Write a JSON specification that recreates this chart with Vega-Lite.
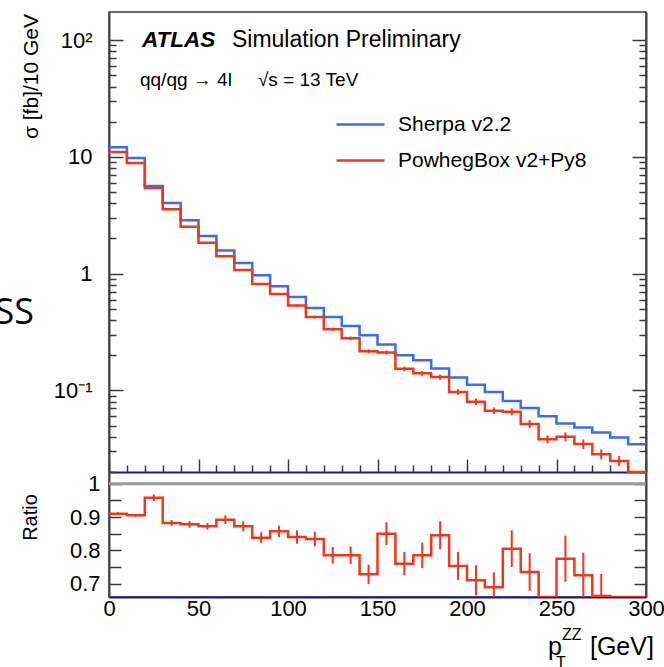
{
  "$schema": "https://vega.github.io/schema/vega-lite/v6.json",
  "autosize": {"type": "none"},
  "padding": {"left": 109, "top": 12, "right": 18, "bottom": 70},
  "background": "white",
  "width": 537,
  "height": 585,
  "config": {
    "font": "Liberation Sans",
    "view": {"stroke": "#3a3a3a", "strokeWidth": 1.5},
    "axis": {"grid": false, "labelFont": "Liberation Sans", "labelColor": "#000", "titleFont": "Liberation Sans", "titleColor": "#000", "titleFontWeight": "normal", "tickColor": "#3a3a3a", "domainColor": "#3a3a3a", "tickWidth": 1.5, "domainWidth": 1.5, "labelOverlap": false},
    "legend": {"orient": "none", "legendX": 226, "legendY": 87, "title": null, "symbolType": "stroke", "symbolSize": 2304, "symbolStrokeWidth": 2.5, "labelFontSize": 21, "labelFont": "Liberation Sans", "labelColor": "#000", "labelOffset": 12, "labelLimit": 0, "rowPadding": -9, "padding": 0}
  },
  "datasets": {
    "top": [
      {"series": "Sherpa v2.2", "lo": 0, "hi": 10, "pt": 5, "sigma": 12.1},
      {"series": "Sherpa v2.2", "lo": 10, "hi": 20, "pt": 15, "sigma": 9.8},
      {"series": "Sherpa v2.2", "lo": 20, "hi": 30, "pt": 25, "sigma": 5.62},
      {"series": "Sherpa v2.2", "lo": 30, "hi": 40, "pt": 35, "sigma": 4.02},
      {"series": "Sherpa v2.2", "lo": 40, "hi": 50, "pt": 45, "sigma": 2.86},
      {"series": "Sherpa v2.2", "lo": 50, "hi": 60, "pt": 55, "sigma": 2.10},
      {"series": "Sherpa v2.2", "lo": 60, "hi": 70, "pt": 65, "sigma": 1.58},
      {"series": "Sherpa v2.2", "lo": 70, "hi": 80, "pt": 75, "sigma": 1.23},
      {"series": "Sherpa v2.2", "lo": 80, "hi": 90, "pt": 85, "sigma": 0.967},
      {"series": "Sherpa v2.2", "lo": 90, "hi": 100, "pt": 95, "sigma": 0.778},
      {"series": "Sherpa v2.2", "lo": 100, "hi": 110, "pt": 105, "sigma": 0.631},
      {"series": "Sherpa v2.2", "lo": 110, "hi": 120, "pt": 115, "sigma": 0.508},
      {"series": "Sherpa v2.2", "lo": 120, "hi": 130, "pt": 125, "sigma": 0.425},
      {"series": "Sherpa v2.2", "lo": 130, "hi": 140, "pt": 135, "sigma": 0.356},
      {"series": "Sherpa v2.2", "lo": 140, "hi": 150, "pt": 145, "sigma": 0.296},
      {"series": "Sherpa v2.2", "lo": 150, "hi": 160, "pt": 155, "sigma": 0.247},
      {"series": "Sherpa v2.2", "lo": 160, "hi": 170, "pt": 165, "sigma": 0.200},
      {"series": "Sherpa v2.2", "lo": 170, "hi": 180, "pt": 175, "sigma": 0.181},
      {"series": "Sherpa v2.2", "lo": 180, "hi": 190, "pt": 185, "sigma": 0.154},
      {"series": "Sherpa v2.2", "lo": 190, "hi": 200, "pt": 195, "sigma": 0.129},
      {"series": "Sherpa v2.2", "lo": 200, "hi": 210, "pt": 205, "sigma": 0.112},
      {"series": "Sherpa v2.2", "lo": 210, "hi": 220, "pt": 215, "sigma": 0.0969},
      {"series": "Sherpa v2.2", "lo": 220, "hi": 230, "pt": 225, "sigma": 0.0811},
      {"series": "Sherpa v2.2", "lo": 230, "hi": 240, "pt": 235, "sigma": 0.0706},
      {"series": "Sherpa v2.2", "lo": 240, "hi": 250, "pt": 245, "sigma": 0.060},
      {"series": "Sherpa v2.2", "lo": 250, "hi": 260, "pt": 255, "sigma": 0.052},
      {"series": "Sherpa v2.2", "lo": 260, "hi": 270, "pt": 265, "sigma": 0.0481},
      {"series": "Sherpa v2.2", "lo": 270, "hi": 280, "pt": 275, "sigma": 0.0435},
      {"series": "Sherpa v2.2", "lo": 280, "hi": 290, "pt": 285, "sigma": 0.0394},
      {"series": "Sherpa v2.2", "lo": 290, "hi": 300, "pt": 295, "sigma": 0.0346},
      {"series": "PowhegBox v2+Py8", "lo": 0, "hi": 10, "pt": 5, "sigma": 11.0},
      {"series": "PowhegBox v2+Py8", "lo": 10, "hi": 20, "pt": 15, "sigma": 8.85},
      {"series": "PowhegBox v2+Py8", "lo": 20, "hi": 30, "pt": 25, "sigma": 5.40},
      {"series": "PowhegBox v2+Py8", "lo": 30, "hi": 40, "pt": 35, "sigma": 3.56},
      {"series": "PowhegBox v2+Py8", "lo": 40, "hi": 50, "pt": 45, "sigma": 2.52},
      {"series": "PowhegBox v2+Py8", "lo": 50, "hi": 60, "pt": 55, "sigma": 1.84},
      {"series": "PowhegBox v2+Py8", "lo": 60, "hi": 70, "pt": 65, "sigma": 1.41},
      {"series": "PowhegBox v2+Py8", "lo": 70, "hi": 80, "pt": 75, "sigma": 1.075},
      {"series": "PowhegBox v2+Py8", "lo": 80, "hi": 90, "pt": 85, "sigma": 0.815},
      {"series": "PowhegBox v2+Py8", "lo": 90, "hi": 100, "pt": 95, "sigma": 0.668},
      {"series": "PowhegBox v2+Py8", "lo": 100, "hi": 110, "pt": 105, "sigma": 0.532},
      {"series": "PowhegBox v2+Py8", "lo": 110, "hi": 120, "pt": 115, "sigma": 0.425},
      {"series": "PowhegBox v2+Py8", "lo": 120, "hi": 130, "pt": 125, "sigma": 0.334},
      {"series": "PowhegBox v2+Py8", "lo": 130, "hi": 140, "pt": 135, "sigma": 0.280},
      {"series": "PowhegBox v2+Py8", "lo": 140, "hi": 150, "pt": 145, "sigma": 0.216},
      {"series": "PowhegBox v2+Py8", "lo": 150, "hi": 160, "pt": 155, "sigma": 0.211},
      {"series": "PowhegBox v2+Py8", "lo": 160, "hi": 170, "pt": 165, "sigma": 0.153},
      {"series": "PowhegBox v2+Py8", "lo": 170, "hi": 180, "pt": 175, "sigma": 0.140},
      {"series": "PowhegBox v2+Py8", "lo": 180, "hi": 190, "pt": 185, "sigma": 0.130},
      {"series": "PowhegBox v2+Py8", "lo": 190, "hi": 200, "pt": 195, "sigma": 0.097},
      {"series": "PowhegBox v2+Py8", "lo": 200, "hi": 210, "pt": 205, "sigma": 0.080},
      {"series": "PowhegBox v2+Py8", "lo": 210, "hi": 220, "pt": 215, "sigma": 0.0670},
      {"series": "PowhegBox v2+Py8", "lo": 220, "hi": 230, "pt": 225, "sigma": 0.0656},
      {"series": "PowhegBox v2+Py8", "lo": 230, "hi": 240, "pt": 235, "sigma": 0.0516},
      {"series": "PowhegBox v2+Py8", "lo": 240, "hi": 250, "pt": 245, "sigma": 0.0381},
      {"series": "PowhegBox v2+Py8", "lo": 250, "hi": 260, "pt": 255, "sigma": 0.0401},
      {"series": "PowhegBox v2+Py8", "lo": 260, "hi": 270, "pt": 265, "sigma": 0.0347},
      {"series": "PowhegBox v2+Py8", "lo": 270, "hi": 280, "pt": 275, "sigma": 0.0284},
      {"series": "PowhegBox v2+Py8", "lo": 280, "hi": 290, "pt": 285, "sigma": 0.0249},
      {"series": "PowhegBox v2+Py8", "lo": 290, "hi": 300, "pt": 295, "sigma": 0.018}
    ],
    "toperr": [
      {"pt": 5, "elo": 10.956, "ehi": 11.044},
      {"pt": 15, "elo": 8.81, "ehi": 8.89},
      {"pt": 25, "elo": 5.344, "ehi": 5.456},
      {"pt": 35, "elo": 3.524, "ehi": 3.596},
      {"pt": 45, "elo": 2.492, "ehi": 2.548},
      {"pt": 55, "elo": 1.82, "ehi": 1.86},
      {"pt": 65, "elo": 1.389, "ehi": 1.431},
      {"pt": 75, "elo": 1.057, "ehi": 1.093},
      {"pt": 85, "elo": 0.7995, "ehi": 0.8305},
      {"pt": 95, "elo": 0.6547, "ehi": 0.6813},
      {"pt": 105, "elo": 0.5192, "ehi": 0.5448},
      {"pt": 115, "elo": 0.414, "ehi": 0.436},
      {"pt": 125, "elo": 0.3233, "ehi": 0.3447},
      {"pt": 135, "elo": 0.2708, "ehi": 0.2892},
      {"pt": 145, "elo": 0.2074, "ehi": 0.2246},
      {"pt": 155, "elo": 0.2026, "ehi": 0.2194},
      {"pt": 165, "elo": 0.146, "ehi": 0.16},
      {"pt": 175, "elo": 0.1333, "ehi": 0.1467},
      {"pt": 185, "elo": 0.1235, "ehi": 0.1365},
      {"pt": 195, "elo": 0.0916, "ehi": 0.1024},
      {"pt": 205, "elo": 0.075, "ehi": 0.085},
      {"pt": 215, "elo": 0.0626, "ehi": 0.0714},
      {"pt": 225, "elo": 0.0611, "ehi": 0.0701},
      {"pt": 235, "elo": 0.0477, "ehi": 0.0555},
      {"pt": 245, "elo": 0.0351, "ehi": 0.0411},
      {"pt": 255, "elo": 0.0365, "ehi": 0.0437},
      {"pt": 265, "elo": 0.0314, "ehi": 0.038},
      {"pt": 275, "elo": 0.0256, "ehi": 0.0312},
      {"pt": 285, "elo": 0.0224, "ehi": 0.0274},
      {"pt": 295, "elo": 0.0162, "ehi": 0.0198}
    ],
    "ratio": [
      {"lo": 0, "hi": 10, "pt": 5, "ratio": 0.910, "rlo": 0.906, "rhi": 0.914},
      {"lo": 10, "hi": 20, "pt": 15, "ratio": 0.905, "rlo": 0.901, "rhi": 0.909},
      {"lo": 20, "hi": 30, "pt": 25, "ratio": 0.958, "rlo": 0.948, "rhi": 0.968},
      {"lo": 30, "hi": 40, "pt": 35, "ratio": 0.882, "rlo": 0.873, "rhi": 0.891},
      {"lo": 40, "hi": 50, "pt": 45, "ratio": 0.878, "rlo": 0.868, "rhi": 0.888},
      {"lo": 50, "hi": 60, "pt": 55, "ratio": 0.872, "rlo": 0.862, "rhi": 0.882},
      {"lo": 60, "hi": 70, "pt": 65, "ratio": 0.892, "rlo": 0.879, "rhi": 0.905},
      {"lo": 70, "hi": 80, "pt": 75, "ratio": 0.872, "rlo": 0.857, "rhi": 0.887},
      {"lo": 80, "hi": 90, "pt": 85, "ratio": 0.838, "rlo": 0.822, "rhi": 0.854},
      {"lo": 90, "hi": 100, "pt": 95, "ratio": 0.857, "rlo": 0.840, "rhi": 0.874},
      {"lo": 100, "hi": 110, "pt": 105, "ratio": 0.840, "rlo": 0.820, "rhi": 0.860},
      {"lo": 110, "hi": 120, "pt": 115, "ratio": 0.834, "rlo": 0.812, "rhi": 0.856},
      {"lo": 120, "hi": 130, "pt": 125, "ratio": 0.785, "rlo": 0.760, "rhi": 0.810},
      {"lo": 130, "hi": 140, "pt": 135, "ratio": 0.785, "rlo": 0.759, "rhi": 0.811},
      {"lo": 140, "hi": 150, "pt": 145, "ratio": 0.728, "rlo": 0.699, "rhi": 0.757},
      {"lo": 150, "hi": 160, "pt": 155, "ratio": 0.850, "rlo": 0.816, "rhi": 0.884},
      {"lo": 160, "hi": 170, "pt": 165, "ratio": 0.760, "rlo": 0.725, "rhi": 0.795},
      {"lo": 170, "hi": 180, "pt": 175, "ratio": 0.785, "rlo": 0.747, "rhi": 0.823},
      {"lo": 180, "hi": 190, "pt": 185, "ratio": 0.845, "rlo": 0.803, "rhi": 0.887},
      {"lo": 190, "hi": 200, "pt": 195, "ratio": 0.753, "rlo": 0.711, "rhi": 0.795},
      {"lo": 200, "hi": 210, "pt": 205, "ratio": 0.710, "rlo": 0.665, "rhi": 0.755},
      {"lo": 210, "hi": 220, "pt": 215, "ratio": 0.689, "rlo": 0.644, "rhi": 0.734},
      {"lo": 220, "hi": 230, "pt": 225, "ratio": 0.805, "rlo": 0.750, "rhi": 0.860},
      {"lo": 230, "hi": 240, "pt": 235, "ratio": 0.735, "rlo": 0.679, "rhi": 0.791},
      {"lo": 240, "hi": 250, "pt": 245, "ratio": 0.620, "rlo": 0.585, "rhi": 0.655},
      {"lo": 250, "hi": 260, "pt": 255, "ratio": 0.775, "rlo": 0.706, "rhi": 0.844},
      {"lo": 260, "hi": 270, "pt": 265, "ratio": 0.725, "rlo": 0.657, "rhi": 0.793},
      {"lo": 270, "hi": 280, "pt": 275, "ratio": 0.663, "rlo": 0.597, "rhi": 0.729},
      {"lo": 280, "hi": 290, "pt": 285, "ratio": 0.600, "rlo": 0.550, "rhi": 0.650},
      {"lo": 290, "hi": 300, "pt": 295, "ratio": 0.500, "rlo": 0.440, "rhi": 0.560}
    ]
  },
  "resolve": {"scale": {"y": "independent"}, "axis": {"x": "independent", "y": "independent"}},
  "layer": [
    {
      "resolve": {"axis": {"x": "independent", "y": "independent"}},
      "layer": [
        {
          "data": {"name": "top"},
          "transform": [{"fold": ["lo", "hi"], "as": ["edge", "pt_edge"]}],
          "mark": {"type": "line", "strokeWidth": 2.5, "clip": true},
          "encoding": {
            "x": {"field": "pt_edge", "type": "quantitative", "scale": {"domain": [0, 300], "nice": false, "zero": false},
                  "axis": {"orient": "bottom", "offset": -125, "values": [0, 50, 100, 150, 200, 250, 300], "labels": false, "tickSize": -13, "title": null, "domainColor": "#1c1c80", "domainWidth": 2}},
            "y": {"field": "sigma", "type": "quantitative", "scale": {"type": "log", "domain": [0.02, 174], "nice": false, "range": [460, 0], "clamp": true},
                  "axis": {"orient": "left", "values": [0.1, 1, 10, 100], "tickSize": -14, "labelFontSize": 22, "labelPadding": 31,
                           "labelExpr": "datum.value == 100 ? '10²' : datum.value == 10 ? '10' : datum.value == 1 ? '1' : '10⁻¹'",
                           "title": "σ [fb]/10 GeV", "titleFontSize": 21, "titleAngle": 270, "titleX": -78, "titleY": 64, "titleAlign": "center", "titleBaseline": "middle",
                           "domainColor": "#444", "domainWidth": 2}},
            "color": {"field": "series", "type": "nominal", "scale": {"domain": ["Sherpa v2.2", "PowhegBox v2+Py8"], "range": ["#3a6cf4", "#f2361c"]}},
            "order": [{"field": "pt_edge", "type": "quantitative"}, {"field": "edge", "type": "nominal"}]
          }
        },
        {
          "data": {"name": "toperr"},
          "mark": {"type": "rule", "color": "#f2361c", "strokeWidth": 2, "clip": true},
          "encoding": {
            "x": {"field": "pt", "type": "quantitative", "axis": null},
            "y": {"field": "elo", "type": "quantitative", "scale": {"type": "log"}, "axis": null},
            "y2": {"field": "ehi"}
          }
        },
        {
          "data": {"name": "top"},
          "mark": {"type": "point", "opacity": 0},
          "encoding": {
            "x": {"field": "pt", "type": "quantitative",
                  "axis": {"orient": "bottom", "offset": -125, "values": [10, 20, 30, 40, 60, 70, 80, 90, 110, 120, 130, 140, 160, 170, 180, 190, 210, 220, 230, 240, 260, 270, 280, 290], "labels": false, "tickSize": -7, "title": null, "domain": false}},
            "y": {"field": "sigma", "type": "quantitative", "scale": {"type": "log"},
                  "axis": {"orient": "left", "values": [0.02, 0.03, 0.04, 0.05, 0.06, 0.07, 0.08, 0.09, 0.2, 0.3, 0.4, 0.5, 0.6, 0.7, 0.8, 0.9, 2, 3, 4, 5, 6, 7, 8, 9, 20, 30, 40, 50, 60, 70, 80, 90], "labels": false, "tickSize": -7, "title": null, "domain": false}}
          }
        },
        {
          "data": {"name": "top"},
          "mark": {"type": "point", "opacity": 0},
          "encoding": {
            "x": {"field": "pt", "type": "quantitative", "axis": null},
            "y": {"field": "sigma", "type": "quantitative", "scale": {"type": "log"},
                  "axis": {"orient": "right", "values": [0.1, 1, 10, 100], "labels": false, "tickSize": -14, "title": null, "domainColor": "#444", "domainWidth": 2}}
          }
        },
        {
          "data": {"name": "top"},
          "mark": {"type": "point", "opacity": 0},
          "encoding": {
            "x": {"field": "pt", "type": "quantitative", "axis": null},
            "y": {"field": "sigma", "type": "quantitative", "scale": {"type": "log"},
                  "axis": {"orient": "right", "values": [0.02, 0.03, 0.04, 0.05, 0.06, 0.07, 0.08, 0.09, 0.2, 0.3, 0.4, 0.5, 0.6, 0.7, 0.8, 0.9, 2, 3, 4, 5, 6, 7, 8, 9, 20, 30, 40, 50, 60, 70, 80, 90], "labels": false, "tickSize": -7, "title": null, "domain": false}}
          }
        },
        {
          "data": {"values": [{"x": 18.4, "y": 86.6, "t": "ATLAS"}]},
          "mark": {"type": "text", "align": "left", "baseline": "alphabetic", "fontSize": 22.5, "fontWeight": "bold", "fontStyle": "italic", "color": "#000"},
          "encoding": {"x": {"field": "x", "type": "quantitative", "axis": null}, "y": {"field": "y", "type": "quantitative", "scale": {"type": "log"}, "axis": null}, "text": {"field": "t"}}
        },
        {
          "data": {"values": [{"x": 68.7, "y": 86.6, "t": "Simulation Preliminary"}]},
          "mark": {"type": "text", "align": "left", "baseline": "alphabetic", "fontSize": 23, "color": "#000"},
          "encoding": {"x": {"field": "x", "type": "quantitative", "axis": null}, "y": {"field": "y", "type": "quantitative", "scale": {"type": "log"}, "axis": null}, "text": {"field": "t"}}
        },
        {
          "data": {"values": [{"x": 17.3, "y": 40.1, "t": "qq/qg → 4l"}, {"x": 83.2, "y": 40.1, "t": "√s = 13 TeV"}]},
          "mark": {"type": "text", "align": "left", "baseline": "alphabetic", "fontSize": 19, "color": "#000"},
          "encoding": {"x": {"field": "x", "type": "quantitative", "axis": null}, "y": {"field": "y", "type": "quantitative", "scale": {"type": "log"}, "axis": null}, "text": {"field": "t"}}
        },
        {
          "data": {"values": [{"x": -41.9, "y": 0.373, "t": "SS"}]},
          "mark": {"type": "text", "align": "right", "baseline": "alphabetic", "fontSize": 36, "font": "Open Sans", "color": "#000"},
          "encoding": {"x": {"field": "x", "type": "quantitative", "axis": null}, "y": {"field": "y", "type": "quantitative", "scale": {"type": "log"}, "axis": null}, "text": {"field": "t"}}
        }
      ]
    },
    {
      "resolve": {"axis": {"x": "independent", "y": "independent"}},
      "layer": [
        {
          "data": {"values": [{}]},
          "mark": {"type": "rule", "color": "#9a9a9a", "strokeWidth": 3},
          "encoding": {"y": {"datum": 1, "type": "quantitative", "scale": {"domain": [0.66, 1.035], "nice": false, "zero": false, "range": [585, 460], "clamp": true}, "axis": null}}
        },
        {
          "data": {"name": "ratio"},
          "transform": [{"fold": ["lo", "hi"], "as": ["edge", "pt_edge"]}],
          "mark": {"type": "line", "strokeWidth": 2.5, "clip": true, "color": "#f2361c"},
          "encoding": {
            "x": {"field": "pt_edge", "type": "quantitative", "scale": {"domain": [0, 300], "nice": false, "zero": false},
                  "axis": {"orient": "bottom", "values": [0, 50, 100, 150, 200, 250, 300], "tickSize": 0, "labelFontSize": 22, "labelPadding": 1, "labelFlush": false, "title": null, "domainColor": "#1c1c80", "domainWidth": 2}},
            "y": {"field": "ratio", "type": "quantitative",
                  "axis": {"orient": "left", "values": [0.7, 0.75, 0.8, 0.85, 0.9, 0.95, 1], "tickSize": -12, "labelFontSize": 22, "labelPadding": 21,
                           "labelExpr": "datum.value == 0.7 ? '0.7' : datum.value == 0.8 ? '0.8' : datum.value == 0.9 ? '0.9' : datum.value == 1 ? '1' : ''",
                           "title": "Ratio", "titleFontSize": 20, "titleAngle": 270, "titleX": -79, "titleY": 505, "titleAlign": "center", "titleBaseline": "middle",
                           "domainColor": "#444", "domainWidth": 2}},
            "order": [{"field": "pt_edge", "type": "quantitative"}, {"field": "edge", "type": "nominal"}]
          }
        },
        {
          "data": {"name": "ratio"},
          "mark": {"type": "rule", "color": "#f2361c", "strokeWidth": 2, "clip": true},
          "encoding": {
            "x": {"field": "pt", "type": "quantitative", "axis": null},
            "y": {"field": "rlo", "type": "quantitative", "axis": null},
            "y2": {"field": "rhi"}
          }
        },
        {
          "data": {"name": "ratio"},
          "mark": {"type": "point", "opacity": 0},
          "encoding": {
            "x": {"field": "pt", "type": "quantitative", "axis": null},
            "y": {"field": "ratio", "type": "quantitative",
                  "axis": {"orient": "right", "values": [0.7, 0.75, 0.8, 0.85, 0.9, 0.95, 1], "labels": false, "tickSize": -12, "title": null, "domainColor": "#444", "domainWidth": 2}}
          }
        }
      ]
    },
    {
      "layer": [
        {
          "data": {"values": [{"x": 245.3, "y": 0.486, "t": "p"}, {"x": 268.7, "y": 0.486, "t": "[GeV]"}]},
          "mark": {"type": "text", "align": "left", "baseline": "alphabetic", "fontSize": 25, "color": "#000"},
          "encoding": {"x": {"field": "x", "type": "quantitative", "axis": null}, "y": {"field": "y", "type": "quantitative", "scale": {"domain": [0.66, 1.035], "nice": false, "zero": false, "range": [585, 460]}, "axis": null}, "text": {"field": "t"}}
        },
        {
          "data": {"values": [{"x": 253.1, "y": 0.531, "t": "ZZ"}, {"x": 249.7, "y": 0.447, "t": "T"}]},
          "mark": {"type": "text", "align": "left", "baseline": "alphabetic", "fontSize": 16, "color": "#000"},
          "encoding": {"x": {"field": "x", "type": "quantitative", "axis": null}, "y": {"field": "y", "type": "quantitative", "axis": null}, "text": {"field": "t"}}
        }
      ]
    }
  ]
}
